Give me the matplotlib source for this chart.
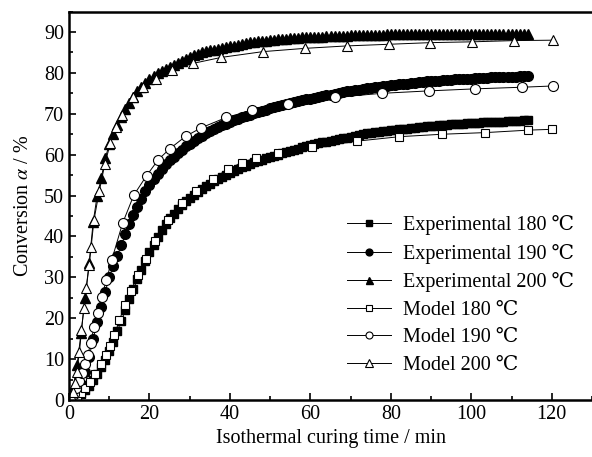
import numpy as np
import matplotlib
matplotlib.use('Agg')
import matplotlib.pyplot as plt
from matplotlib.ticker import MultipleLocator

plt.rcParams['font.family'] = ['Liberation Serif', 'DejaVu Serif']
plt.rcParams['mathtext.fontset'] = 'stix'

# experimental data, one point per minute (0..114 min)
t_exp = np.arange(0, 115)
exp_180 = [0.0, 0.3, 0.8, 1.5, 2.4, 3.5, 4.8, 6.3, 8.0, 9.9,
           12.0, 14.3, 16.8, 19.4, 22.0, 24.6, 27.1, 29.5, 31.8, 34.0,
           36.1, 38.0, 39.8, 41.5, 43.0, 44.4, 45.6, 46.7, 47.7, 48.6,
           49.4, 50.2, 50.9, 51.6, 52.3, 52.9, 53.5, 54.1, 54.6, 55.1,
           55.6, 56.1, 56.5, 56.9, 57.3, 57.7, 58.1, 58.5, 58.8, 59.1,
           59.4, 59.7, 60.0, 60.3, 60.6, 60.9, 61.2, 61.5, 61.8, 62.1,
           62.4, 62.6, 62.8, 63.0, 63.2, 63.4, 63.6, 63.8, 64.0, 64.2,
           64.4, 64.6, 64.8, 65.0, 65.2, 65.4, 65.5, 65.6, 65.8, 65.9,
           66.0, 66.1, 66.2, 66.3, 66.4, 66.5, 66.6, 66.7, 66.8, 66.9,
           67.0, 67.1, 67.2, 67.3, 67.3, 67.4, 67.5, 67.5, 67.6, 67.7,
           67.7, 67.8, 67.8, 67.9, 67.9, 68.0, 68.0, 68.1, 68.1, 68.2,
           68.2, 68.3, 68.3, 68.4, 68.4]
exp_190 = [0.0, 0.8, 2.0, 4.0, 6.8, 10.5, 15.0, 19.0, 22.8, 26.5,
           30.0, 32.8, 35.3, 37.8, 40.5, 43.0, 45.2, 47.3, 49.2, 51.0,
           52.6, 54.0, 55.3, 56.5, 57.6, 58.6, 59.5, 60.4, 61.2, 62.0,
           62.7, 63.4, 64.0, 64.6, 65.2, 65.8, 66.3, 66.8, 67.2, 67.6,
           68.0, 68.4, 68.8, 69.2, 69.5, 69.8, 70.1, 70.4, 70.7, 71.0,
           71.3, 71.6, 71.9, 72.2, 72.5, 72.7, 72.9, 73.1, 73.3, 73.5,
           73.7, 73.9, 74.1, 74.3, 74.5, 74.7, 74.9, 75.1, 75.3, 75.5,
           75.6, 75.8, 75.9, 76.1, 76.2, 76.4, 76.5, 76.6, 76.8, 76.9,
           77.0, 77.1, 77.2, 77.3, 77.4, 77.5, 77.6, 77.7, 77.8, 77.9,
           78.0, 78.1, 78.1, 78.2, 78.3, 78.3, 78.4, 78.5, 78.5, 78.6,
           78.6, 78.7, 78.7, 78.8, 78.8, 78.9, 78.9, 79.0, 79.0, 79.1,
           79.1, 79.1, 79.2, 79.2, 79.2]
exp_200 = [0.0, 3.0, 8.5, 16.5, 25.0, 33.5, 43.5, 50.0, 54.2, 59.1,
           62.5, 65.0, 67.2, 69.2, 71.1, 72.7, 74.2, 75.5, 76.6, 77.5,
           78.4, 79.2, 79.9, 80.5, 81.0, 81.5, 82.0, 82.5, 83.0, 83.5,
           84.0, 84.4, 84.7, 85.0, 85.3, 85.5, 85.7, 85.9, 86.1, 86.3,
           86.5, 86.7, 86.9, 87.1, 87.3, 87.5, 87.6, 87.7, 87.8, 87.9,
           88.0, 88.1, 88.2, 88.3, 88.4, 88.5, 88.6, 88.6, 88.7, 88.7,
           88.8, 88.8, 88.9, 88.9, 89.0, 89.0, 89.0, 89.1, 89.1, 89.1,
           89.2, 89.2, 89.2, 89.2, 89.3, 89.3, 89.3, 89.3, 89.3, 89.4,
           89.4, 89.4, 89.4, 89.4, 89.4, 89.4, 89.4, 89.4, 89.4, 89.4,
           89.4, 89.4, 89.4, 89.4, 89.4, 89.4, 89.5, 89.5, 89.5, 89.5,
           89.5, 89.5, 89.5, 89.5, 89.5, 89.5, 89.5, 89.5, 89.5, 89.5,
           89.5, 89.5, 89.5, 89.5, 89.5]

# model points
t_mod_180 = [0, 1.0, 2.0, 2.9, 4.0, 5.2, 6.5, 7.9, 9.2, 10.3, 11.3, 12.5, 13.9,
             15.3, 17.2, 19.1, 21.3, 24.7, 28.1, 31.5, 35.7, 39.5, 42.9, 46.5,
             52.0, 60.5, 71.5, 82.1, 92.8, 103.5, 114.1, 120.0]
mod_180 = [0, 0.5, 1.1, 1.8, 2.9, 4.5, 6.4, 8.8, 11.0, 13.2, 15.9, 19.5, 23.2,
           26.6, 30.6, 34.6, 39.0, 44.1, 48.2, 51.2, 54.0, 56.5, 58.0, 59.3,
           60.5, 61.9, 63.3, 64.4, 65.0, 65.4, 66.0, 66.2]
t_mod_190 = [0, 1.2, 1.8, 2.5, 3.2, 4.0, 4.7, 5.4, 6.2, 7.1, 8.1, 9.3, 10.6,
             13.3, 16.1, 19.3, 22.2, 25.1, 29.0, 32.9, 39.1, 45.6, 54.4, 66.0,
             77.7, 89.4, 101.0, 112.7, 120.2]
mod_190 = [0, 1.5, 3.0, 4.6, 6.7, 8.8, 11.1, 14.0, 17.9, 21.2, 25.3, 29.3, 34.2,
           43.2, 50.1, 54.9, 58.8, 61.5, 64.5, 66.6, 69.1, 70.9, 72.5, 74.0,
           75.0, 75.6, 76.1, 76.5, 76.8]
t_mod_200 = [0, 0.6, 1.1, 1.5, 1.9, 2.6, 3.1, 3.7, 4.3, 5.0, 5.5, 6.2, 7.5, 8.9,
             10.3, 11.8, 13.1, 15.8, 18.4, 21.6, 25.5, 30.7, 37.9, 48.2, 58.6,
             69.1, 79.5, 89.8, 100.2, 110.7, 120.2]
mod_200 = [0, 1.0, 2.0, 4.2, 6.9, 11.8, 17.1, 22.5, 27.4, 33.0, 37.5, 44.0, 51.0,
           57.7, 62.9, 66.8, 69.7, 74.0, 76.5, 78.6, 80.7, 82.3, 83.8, 85.2, 86.0,
           86.6, 87.0, 87.4, 87.6, 87.9, 88.0]

fig = plt.figure(figsize=(5.92, 4.57), dpi=100)
ax = fig.add_axes([0.1166, 0.1247, 0.8834, 0.85])

ax.plot(t_exp, exp_180, '-s', color='black', mfc='black', ms=6.2, lw=0.7, label='Experimental 180 ℃')
ax.plot(t_exp, exp_190, '-o', color='black', mfc='black', ms=7.0, lw=0.7, label='Experimental 190 ℃')
ax.plot(t_exp, exp_200, '-^', color='black', mfc='black', ms=7.2, lw=0.7, label='Experimental 200 ℃')
ax.plot(t_mod_180, mod_180, '-s', color='black', mfc='white', ms=6.4, mew=0.8, lw=0.7, label='Model 180 ℃')
ax.plot(t_mod_190, mod_190, '-o', color='black', mfc='white', ms=7.2, mew=0.8, lw=0.7, label='Model 190 ℃')
ax.plot(t_mod_200, mod_200, '-^', color='black', mfc='white', ms=7.4, mew=0.8, lw=0.7, label='Model 200 ℃')

ax.set_xlim(0, 130)
ax.set_ylim(0, 95)
ax.xaxis.set_major_locator(MultipleLocator(20))
ax.xaxis.set_minor_locator(MultipleLocator(10))
ax.yaxis.set_major_locator(MultipleLocator(10))
ax.yaxis.set_minor_locator(MultipleLocator(5))
ax.tick_params(which='both', direction='in', labelsize=14.5, width=1.2)
ax.tick_params(which='major', length=5)
ax.tick_params(which='minor', length=3)
ax.spines['right'].set_visible(False)
for s in ['left', 'bottom', 'top']:
    ax.spines[s].set_linewidth(1.8)

ax.set_xlabel('Isothermal curing time / min', fontsize=14.5)
ax.set_ylabel(r'Conversion $\alpha$ / %', fontsize=14.5, labelpad=8)

leg = ax.legend(loc='center left', bbox_to_anchor=(0.497, 0.27), frameon=False,
                fontsize=14.5, handlelength=2.2, handletextpad=0.6, labelspacing=0.42,
                markerscale=0.7)

fig.savefig('out.png', dpi=100)
